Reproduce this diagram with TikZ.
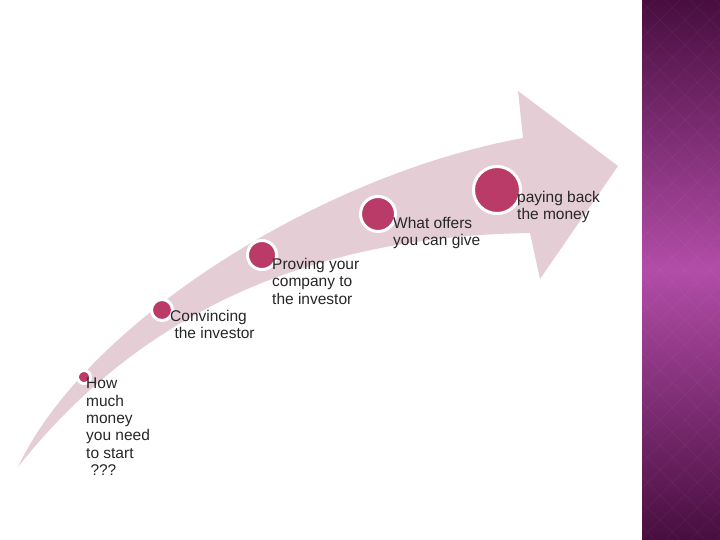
\documentclass[tikz,border=0pt]{standalone}
\usepackage{fontspec}
\setmainfont{Liberation Sans}
\usetikzlibrary{positioning}

\definecolor{bandpink}{RGB}{229,205,214}
\definecolor{dotrose}{RGB}{186,58,104}
\definecolor{stripdark}{RGB}{72,14,62}
\definecolor{stripmid}{RGB}{178,76,168}

\begin{document}
\begin{tikzpicture}[
  x=1pt, y=-1pt,
  dot/.style={circle, fill=dotrose, draw=white, line width=3pt, inner sep=0pt},
  lbl/.style={anchor=north west, align=left, inner sep=0pt,
              font=\fontsize{15.5}{17.3}\selectfont, text=black!85}
]
\useasboundingbox (0,0) rectangle (720,540);

% curved band with its arrow head
\fill[bandpink] (18,467) .. controls (84,326) and (315,176) .. (523,138)
  -- (518,91) -- (618,166) -- (540,279) -- (530,233)
  .. controls (330,236) and (150,300) .. cycle;

% side strip of the slide
\shade[top color=stripdark, bottom color=stripdark, middle color=stripmid]
  (642,0) rectangle (720,540);
\begin{scope}
  \clip (642,0) rectangle (720,540);
  \foreach \i in {-560,-535,...,720} {
    \draw[white, opacity=0.035, line width=0.8pt] (\i,0) -- ++(540,540);
    \draw[white, opacity=0.035, line width=0.8pt] (\i,540) -- ++(540,-540);
  }
\end{scope}

% steps along the band, growing towards the head
\node[dot, minimum size=13pt] (start)    at (84,377)  {};
\node[dot, minimum size=21pt] (convince) at (162,310) {};
\node[dot, minimum size=29pt] (prove)    at (262,255) {};
\node[dot, minimum size=35pt] (offer)    at (378,214) {};
\node[dot, minimum size=47pt] (payback)  at (497,190) {};

\node[lbl] (startlbl)    at (86,378)  {How\\much\\money\\you need\\to start\\\ ???};
\node[lbl] (convincelbl) at (170,310) {Convincing\\\ the investor};
\node[lbl] (provelbl)    at (272,258) {Proving your\\company to\\the investor};
\node[lbl] (offerlbl)    at (393,217) {What offers\\you can give};
\node[lbl] (paybacklbl)  at (517,191) {paying back\\the money};

\end{tikzpicture}
\end{document}
